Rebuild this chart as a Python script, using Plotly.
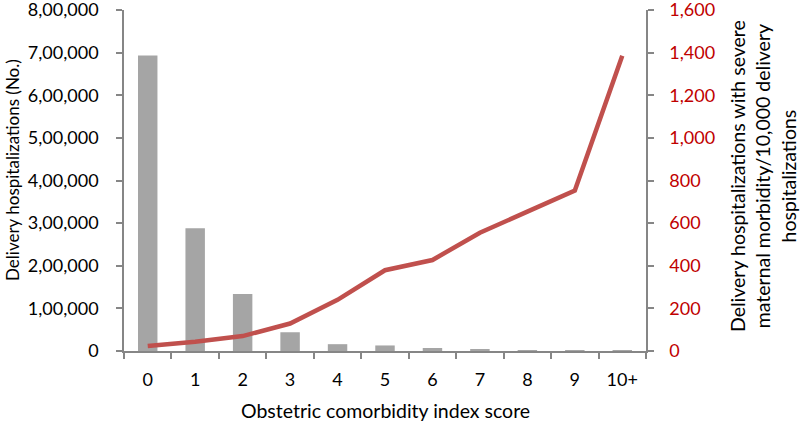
import plotly.graph_objects as go

categories = ["0", "1", "2", "3", "4", "5", "6", "7", "8", "9", "10+"]
hospitalizations = [693000, 288000, 134000, 44000, 16000, 13000, 7000, 4000, 2000, 1500, 2000]
smm_rate = [23, 43, 70, 129, 240, 379, 427, 555, 654, 753, 1385]

left_tickvals = [0, 100000, 200000, 300000, 400000, 500000, 600000, 700000, 800000]
left_ticktext = ["0", "1,00,000", "2,00,000", "3,00,000", "4,00,000",
                 "5,00,000", "6,00,000", "7,00,000", "8,00,000"]
right_tickvals = [0, 200, 400, 600, 800, 1000, 1200, 1400, 1600]
right_ticktext = ["0", "200", "400", "600", "800", "1,000", "1,200", "1,400", "1,600"]

FONT = "Lato, 'Open Sans', sans-serif"
AXIS_GRAY = "#868686"
TICK_SIZE = 18

L, R, T, B = 124, 154, 10, 71
W, H = 800, 422
PW = W - L - R
PH = H - T - B


def px_x(px):
    return (px - L) / PW


def px_y(py):
    return (H - B - py) / PH


fig = go.Figure()
fig.add_trace(go.Bar(
    x=categories, y=hospitalizations, marker=dict(color="#a5a5a5", line=dict(width=0)),
    yaxis="y", name="Delivery hospitalizations",
))
fig.add_trace(go.Scatter(
    x=categories, y=smm_rate, mode="lines", line=dict(color="#c0504d", width=4.5),
    yaxis="y2", name="SMM rate",
))

axis_common = dict(
    showline=True, linecolor=AXIS_GRAY, linewidth=1.5,
    ticks="outside", ticklen=6, tickcolor=AXIS_GRAY, tickwidth=1.5,
    showgrid=False, zeroline=False, automargin=False,
    ticklabeloverflow="allow",
)

fig.update_layout(
    width=W, height=H,
    margin=dict(l=L, r=R, t=T, b=B),
    paper_bgcolor="white", plot_bgcolor="white",
    showlegend=False,
    bargap=0.59,
    font=dict(family=FONT, size=19, color="#000000"),
    xaxis=dict(
        type="category", range=[-0.5, 10.5], tickson="boundaries",
        tickfont=dict(size=TICK_SIZE, color="#000000"), ticklabelstandoff=12,
        **axis_common,
    ),
    yaxis=dict(
        range=[0, 800000], tickvals=left_tickvals, ticktext=left_ticktext,
        tickfont=dict(size=TICK_SIZE, color="#000000"), ticklabelstandoff=14,
        **axis_common,
    ),
    yaxis2=dict(
        range=[0, 1600], tickvals=right_tickvals, ticktext=right_ticktext,
        overlaying="y", side="right",
        tickfont=dict(size=TICK_SIZE, color="#c00000"), ticklabelstandoff=12,
        **axis_common,
    ),
    annotations=[
        dict(text="Obstetric comorbidity index score", xref="paper", yref="paper",
             x=px_x(385), y=px_y(410), xanchor="center", yanchor="middle",
             showarrow=False, font=dict(size=19.5)),
        dict(text="Delivery hospitalizations (No.)", xref="paper", yref="paper",
             x=px_x(12), y=px_y(170), xanchor="center", yanchor="middle",
             textangle=-90, showarrow=False, font=dict(size=17)),
        dict(text="Delivery hospitalizations with severe<br>maternal morbidity/10,000 delivery<br>hospitalizations",
             xref="paper", yref="paper",
             x=px_x(763), y=px_y(176), xanchor="center", yanchor="middle",
             textangle=-90, showarrow=False, font=dict(size=19.5)),
    ],
)

fig.write_html(
    "out.html",
    config={"displayModeBar": False},
    post_script="document.body.style.margin='0';document.body.style.padding='0';",
)
